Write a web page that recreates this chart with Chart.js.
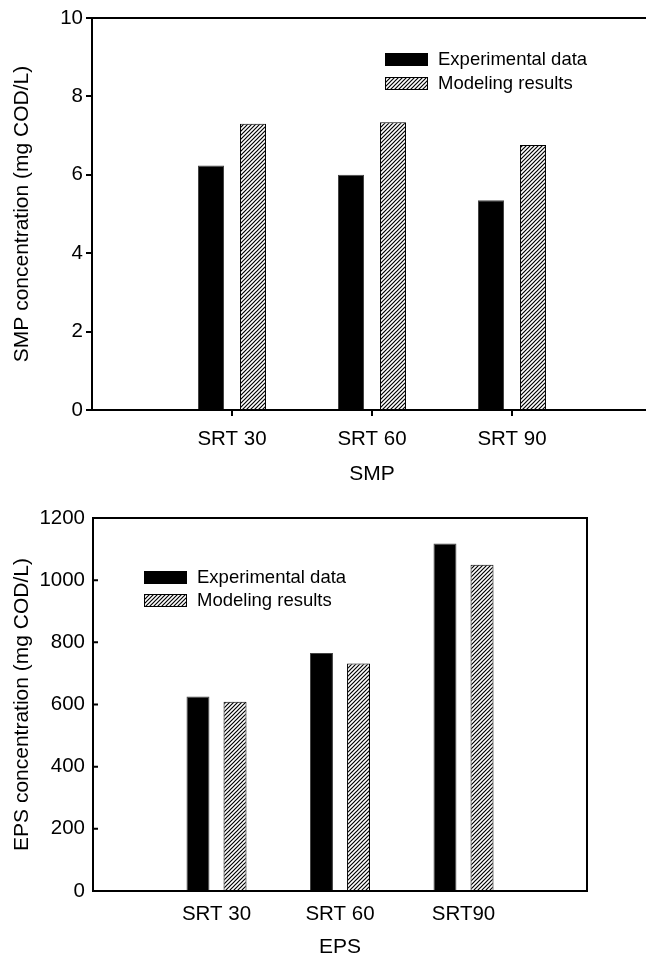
<!DOCTYPE html>
<html>
<head>
<meta charset="utf-8">
<script src="https://cdn.jsdelivr.net/npm/chart.js@4.4.0/dist/chart.umd.min.js"></script>
<style>
  html, body { margin: 0; padding: 0; background: #fff; overflow: hidden; width: 646px; height: 960px; }
  #smpCvs { position: absolute; left: 0; top: 0; }
  #epsCvs { position: absolute; left: 0; top: 480px; }
</style>
</head>
<body>
<canvas id="smpCvs" width="700" height="500"></canvas>
<canvas id="epsCvs" width="646" height="480"></canvas>
<script>
// data
const seriesNames = ['Experimental data', 'Modeling results'];

const smpLabels = ['', 'SRT 30', 'SRT 60', 'SRT 90', ''];
const smpExperimental = [null, 6.24, 6.00, 5.35, null];
const smpModeling = [null, 7.30, 7.34, 6.76, null];
const smpTicks = [0, 2, 4, 6, 8, 10];

const epsLabels = ['', 'SRT 30', 'SRT 60', 'SRT90', ''];
const epsExperimental = [null, 626, 766, 1118, null];
const epsModeling = [null, 609, 732, 1050, null];
const epsTicks = [0, 200, 400, 600, 800, 1000, 1200];

const FONT = '"Liberation Sans", Arial, sans-serif';
Chart.defaults.font.family = FONT;
Chart.defaults.color = '#000';

// hatch ////
function makeHatch() {
  const c = document.createElement('canvas');
  c.width = 4; c.height = 4;
  const g = c.getContext('2d');
  g.fillStyle = '#fff';
  g.fillRect(0, 0, 4, 4);
  g.strokeStyle = '#000';
  g.lineWidth = 1.2;
  g.beginPath();
  g.moveTo(0, 4); g.lineTo(4, 0);
  g.moveTo(-1, 1); g.lineTo(1, -1);
  g.moveTo(3, 5); g.lineTo(5, 3);
  g.stroke();
  return g.createPattern(c, 'repeat');
}

// axis lines drawn over the bars, plus inward ticks if asked
const framePlugin = {
  id: 'frame',
  afterDatasetsDraw(chart, args, opts) {
    const {ctx, chartArea: a} = chart;
    ctx.save();
    ctx.strokeStyle = '#000';
    ctx.lineWidth = 2;
    ctx.beginPath();
    ctx.moveTo(a.left, a.top); ctx.lineTo(a.left, a.bottom);
    ctx.lineTo(a.right + 1, a.bottom);
    ctx.moveTo(a.left - 1, a.top); ctx.lineTo(a.right + 1, a.top);
    if (opts.right) { ctx.moveTo(a.right, a.top); ctx.lineTo(a.right, a.bottom); }
    if (opts.innerTicks) {
      const ys = chart.scales.y;
      ys.ticks.forEach(t => {
        const py = ys.getPixelForValue(t.value);
        ctx.moveTo(a.left, py); ctx.lineTo(a.left + 5, py);
      });
    }
    ctx.stroke();
    ctx.restore();
  }
};

const boxLegend = {
  id: 'boxLegend',
  afterDraw(chart, args, opts) {
    const ctx = chart.ctx;
    ctx.save();
    ctx.font = '18.5px ' + FONT;
    ctx.textBaseline = 'middle';
    chart.data.datasets.forEach((ds, i) => {
      const y = opts.y + i * opts.gap;
      ctx.fillStyle = ds.backgroundColor;
      ctx.fillRect(opts.x, y, 43, 13);
      ctx.lineWidth = 1;
      ctx.strokeStyle = '#000';
      ctx.strokeRect(opts.x + 0.5, y + 0.5, 42, 12);
      ctx.fillStyle = '#000';
      ctx.fillText(ds.label, opts.x + 53, y + 7);
    });
    ctx.restore();
  }
};

function makeChart(id, labels, exp, mod, ticks, cfg) {
  const hatch = makeHatch();
  const ctx = document.getElementById(id).getContext('2d');
  return new Chart(ctx, {
    type: 'bar',
    data: {
      labels: labels,
      datasets: [
        { label: seriesNames[0], data: exp, backgroundColor: '#000', borderColor: '#444', borderWidth: 1 },
        { label: seriesNames[1], data: mod, backgroundColor: hatch, borderColor: '#000', borderWidth: 1 }
      ]
    },
    options: {
      responsive: false,
      animation: false,
      events: [],
      layout: { padding: cfg.padding },
      datasets: { bar: { barPercentage: 0.62, categoryPercentage: 0.6 } },
      plugins: {
        legend: { display: false },
        tooltip: { enabled: false },
        frame: { right: cfg.rightBorder, innerTicks: cfg.innerTicks },
        boxLegend: cfg.legend
      },
      scales: {
        x: {
          offset: false,
          border: { display: false },
          grid: {
            offset: false,
            display: cfg.xTicks,
            drawOnChartArea: false,
            drawTicks: cfg.xTicks,
            tickLength: 6,
            lineWidth: 2,
            color: c => (c.index === 0 || c.index === labels.length - 1) ? 'rgba(0,0,0,0)' : '#000'
          },
          ticks: { font: { size: 20.5 }, padding: cfg.xPad, maxRotation: 0, autoSkip: false },
          title: { display: true, text: cfg.xTitle, font: { size: 21 }, padding: { top: 0, bottom: cfg.xTitlePad } },
          afterFit: s => { s.height = cfg.xHeight; }
        },
        y: {
          min: ticks[0],
          max: ticks[ticks.length - 1],
          border: { display: false },
          grid: {
            display: !cfg.innerTicks,
            drawOnChartArea: false,
            drawTicks: !cfg.innerTicks,
            tickLength: 6,
            lineWidth: 2,
            color: '#000'
          },
          ticks: { stepSize: ticks[1] - ticks[0], font: { size: 20.5 }, padding: cfg.yPad, callback: v => String(v) },
          title: { display: true, text: cfg.yTitle, font: { size: 21 }, padding: { top: 10, bottom: 0 } },
          afterFit: s => { s.width = cfg.yWidth; }
        }
      }
    },
    plugins: [framePlugin, boxLegend]
  });
}

makeChart('smpCvs', smpLabels, smpExperimental, smpModeling, smpTicks, {
  padding: { top: 18, right: 48, bottom: 0, left: 0 },
  xTicks: true, innerTicks: false, rightBorder: false,
  xPad: 11, yPad: 3, xTitlePad: 13, xHeight: 90, yWidth: 92,
  xTitle: 'SMP', yTitle: 'SMP concentration (mg COD/L)',
  legend: { x: 385, y: 53, gap: 24 }
});

makeChart('epsCvs', epsLabels, epsExperimental, epsModeling, epsTicks, {
  padding: { top: 38, right: 59, bottom: 0, left: 0 },
  xTicks: false, innerTicks: true, rightBorder: true,
  xPad: 11, yPad: 8, xTitlePad: 0, xHeight: 69, yWidth: 93,
  xTitle: 'EPS', yTitle: 'EPS concentration (mg COD/L)',
  legend: { x: 144, y: 91, gap: 23 }
});
</script>
</body>
</html>
